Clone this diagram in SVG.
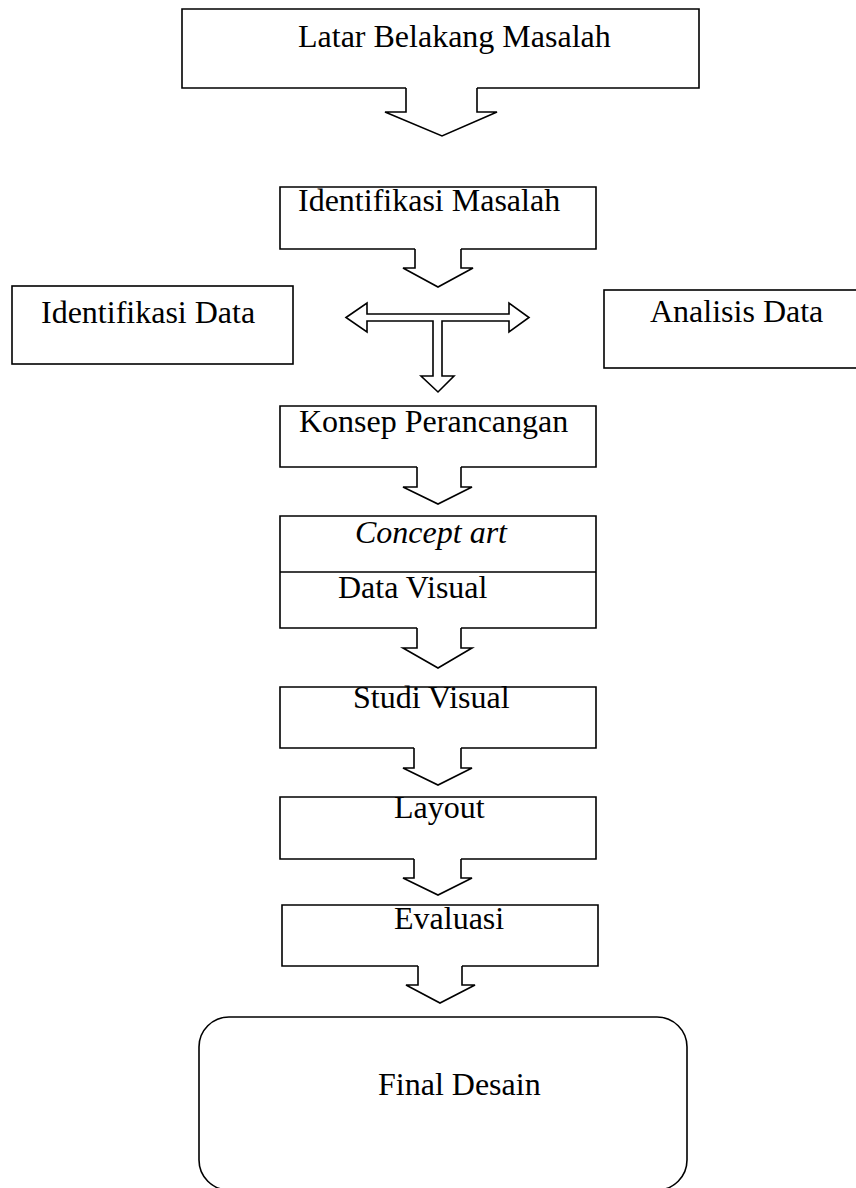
<svg xmlns="http://www.w3.org/2000/svg" width="856" height="1188" viewBox="0 0 856 1188">
<style>
.s{fill:none;stroke:#000;stroke-width:1.6;stroke-linejoin:miter}
.w{fill:#fff;stroke:#000;stroke-width:1.6}
.t{font-family:"Liberation Serif","Times New Roman",serif;font-size:32px;fill:#000}
.i{font-style:italic}
</style>
<rect x="0" y="0" width="856" height="1188" fill="#fff"/>
<g id="n-latar">
<path class="s" d="M406,88 H182 V9 H699 V88 H477"/>
<text class="t" x="298" y="47">Latar Belakang Masalah</text>
</g>
<g id="n-identifikasi-masalah">
<path class="s" d="M415,249 H280 V187 H596 V249 H461"/>
<text class="t" x="298" y="211">Identifikasi Masalah</text>
</g>
<g id="n-identifikasi-data">
<rect class="s" x="12" y="286" width="281" height="78"/>
<text class="t" x="41" y="323">Identifikasi Data</text>
</g>
<g id="n-analisis-data">
<rect class="s" x="604" y="290" width="260" height="78"/>
<text class="t" x="650" y="322">Analisis Data</text>
</g>
<g id="n-konsep">
<path class="s" d="M417,467 H280 V406 H596 V467 H461"/>
<text class="t" x="299" y="432">Konsep Perancangan</text>
</g>
<g id="n-concept-art">
<path class="s" d="M417,628 H280 V516 H596 V628 H461 M280,572 H596"/>
<text class="t i" x="355" y="543">Concept art</text>
<text class="t" x="338" y="598">Data Visual</text>
</g>
<g id="n-studi">
<path class="s" d="M414,748 H280 V687 H596 V748 H461"/>
<text class="t" x="353" y="708">Studi Visual</text>
</g>
<g id="n-layout">
<path class="s" d="M414,859 H280 V797 H596 V859 H461"/>
<text class="t" x="394" y="818">Layout</text>
</g>
<g id="n-evaluasi">
<path class="s" d="M418,966 H282 V905 H598 V966 H462"/>
<text class="t" x="394" y="929">Evaluasi</text>
</g>
<g id="n-final">
<rect class="s" x="199" y="1017" width="488" height="173" rx="30" ry="30"/>
<text class="t" x="378" y="1095">Final Desain</text>
</g>
<g id="connectors">
<path class="s" d="M406,88 V112 H385 L442,136 L497,112 H477 V88"/>
<path class="s" d="M415,249 V268 H403 L438,287 L473,268 H461 V249"/>
<path class="s" d="M346,317.5 L367,303 V314 H509 V303 L529,317.5 L509,332 V321 H442 V376 H454 L438,392 L421,376 H433 V321 H367 V332 Z"/>
<path class="s" d="M417,467 V487 H403 L438,504 L472,487 H461 V467"/>
<path class="s" d="M417,628 V648 H403 L438,668 L472,648 H461 V628"/>
<path class="s" d="M414,748 V768 H403 L438,785 L472,768 H461 V748"/>
<path class="s" d="M414,859 V878 H403 L438,895 L472,878 H461 V859"/>
<path class="s" d="M418,966 V985 H406 L440,1003 L475,985 H462 V966"/>
</g>
</svg>
